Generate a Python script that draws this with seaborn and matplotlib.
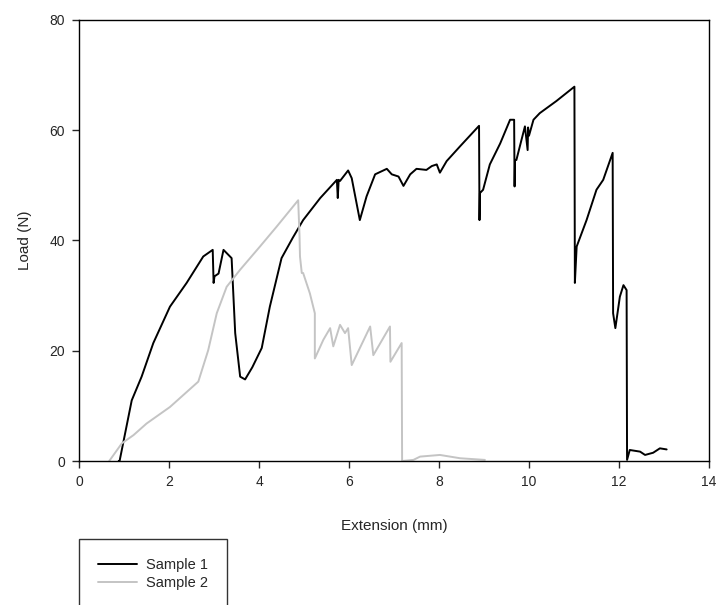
import pandas as pd
import numpy as np
import seaborn as sns
import matplotlib.pyplot as plt
from matplotlib.lines import Line2D

# Sample 1 (black)
ext1 = [0.88, 0.9, 1.17, 1.39, 1.65, 2.02, 2.39, 2.76, 2.97, 2.99, 3.01, 3.1, 3.21, 3.39,
        3.47, 3.58, 3.69, 3.85, 4.06, 4.24, 4.5, 4.75, 4.98, 5.36, 5.73, 5.75, 5.77, 5.8,
        5.98, 6.06, 6.24, 6.39, 6.58, 6.84, 6.95, 7.1, 7.21, 7.36, 7.5, 7.72, 7.84, 7.95,
        8.02, 8.17, 8.47, 8.89, 8.9, 8.91, 8.98, 9.13, 9.36, 9.58, 9.67, 9.68, 9.69, 9.72,
        9.91, 9.97, 9.98, 10.0, 10.1, 10.24, 10.61, 11.01, 11.02, 11.06, 11.28, 11.5, 11.65,
        11.86, 11.87, 11.92, 12.02, 12.1, 12.17, 12.18, 12.24, 12.47, 12.58, 12.76, 12.91, 13.06]
load1 = [0.0, 0.0, 11.0, 15.3, 21.4, 28.0, 32.3, 37.1, 38.3, 32.3, 33.5, 34.0, 38.3, 36.8,
         23.2, 15.3, 14.8, 17.0, 20.5, 28.0, 36.8, 40.5, 43.7, 47.7, 51.0, 47.7, 51.0, 50.8,
         52.7, 51.3, 43.7, 48.0, 52.0, 53.0, 52.0, 51.6, 49.9, 52.0, 53.0, 52.8, 53.5, 53.8,
         52.3, 54.4, 57.1, 60.8, 43.7, 48.6, 49.2, 53.8, 57.6, 61.9, 61.9, 49.8, 54.6, 54.6,
         60.7, 56.4, 60.5, 59.0, 61.9, 63.1, 65.3, 67.9, 32.3, 38.9, 43.7, 49.2, 51.0,
         55.9, 26.8, 24.1, 29.8, 31.9, 31.0, 0.2, 2.0, 1.7, 1.1, 1.5, 2.3, 2.1]

# Sample 2 (grey)
ext2 = [0.67, 0.95, 1.21, 1.5, 2.02, 2.65, 2.87, 3.06, 3.28, 3.58, 4.02, 4.39, 4.87, 4.9,
        4.91, 4.95, 4.98, 5.13, 5.24, 5.24, 5.43, 5.58, 5.65, 5.8, 5.91, 5.98, 6.06, 6.47,
        6.54, 6.91, 6.92, 7.17, 7.18, 7.43, 7.58, 8.02, 8.47, 9.02]
load2 = [0.0, 3.2, 4.7, 6.8, 9.8, 14.4, 20.1, 26.8, 31.6, 34.7, 38.9, 42.5, 47.3, 40.8,
         37.1, 34.1, 34.1, 30.4, 26.8, 18.6, 22.0, 24.1, 20.8, 24.7, 23.2, 24.1, 17.4, 24.4,
         19.2, 24.4, 18.0, 21.4, 0.0, 0.2, 0.8, 1.1, 0.5, 0.2]

df = pd.concat([
    pd.DataFrame({'ext': ext1, 'load': load1, 'sample': 'Sample 1'}),
    pd.DataFrame({'ext': ext2, 'load': load2, 'sample': 'Sample 2'}),
])

sns.set_style("white")
plt.rcParams['font.family'] = ['Liberation Sans', 'DejaVu Sans']

fig = plt.figure(figsize=(7.19, 6.05), dpi=100)
ax = fig.add_axes([0.11, 0.238, 0.876, 0.729])

g = sns.lineplot(data=df, x='ext', y='load', hue='sample', sort=False, estimator=None,
                 palette={'Sample 1': 'black', 'Sample 2': '#c4c4c4'}, linewidth=1.4,
                 ax=ax, legend=False)

ax.set_xlim(0, 14)
ax.set_ylim(0, 80)
ax.set_xticks(range(0, 15, 2))
ax.set_yticks(range(0, 81, 20))
ax.tick_params(direction='out', length=5, width=1, labelsize=10, pad=5,
               bottom=True, left=True)
for s in ax.spines.values():
    s.set_color('black')
    s.set_linewidth(1)
ax.set_xlabel('Extension (mm)', fontsize=11, labelpad=22)
ax.set_ylabel('Load (N)', fontsize=11, labelpad=13)

# legend below the plot, box runs off the bottom edge
handles = [Line2D([], [], color='black', lw=1.4), Line2D([], [], color='#c4c4c4', lw=1.4)]
leg = fig.legend(handles, ['Sample 1', 'Sample 2'], loc='upper left',
                 bbox_to_anchor=(79 / 719, 1 - 539 / 605), fontsize=10.5, frameon=True,
                 fancybox=False, edgecolor='black', labelspacing=0.3, handlelength=2.7,
                 handletextpad=0.6, borderpad=1.3, borderaxespad=0)
leg.get_frame().set_linewidth(1)

plt.savefig('out.png', dpi=100)
